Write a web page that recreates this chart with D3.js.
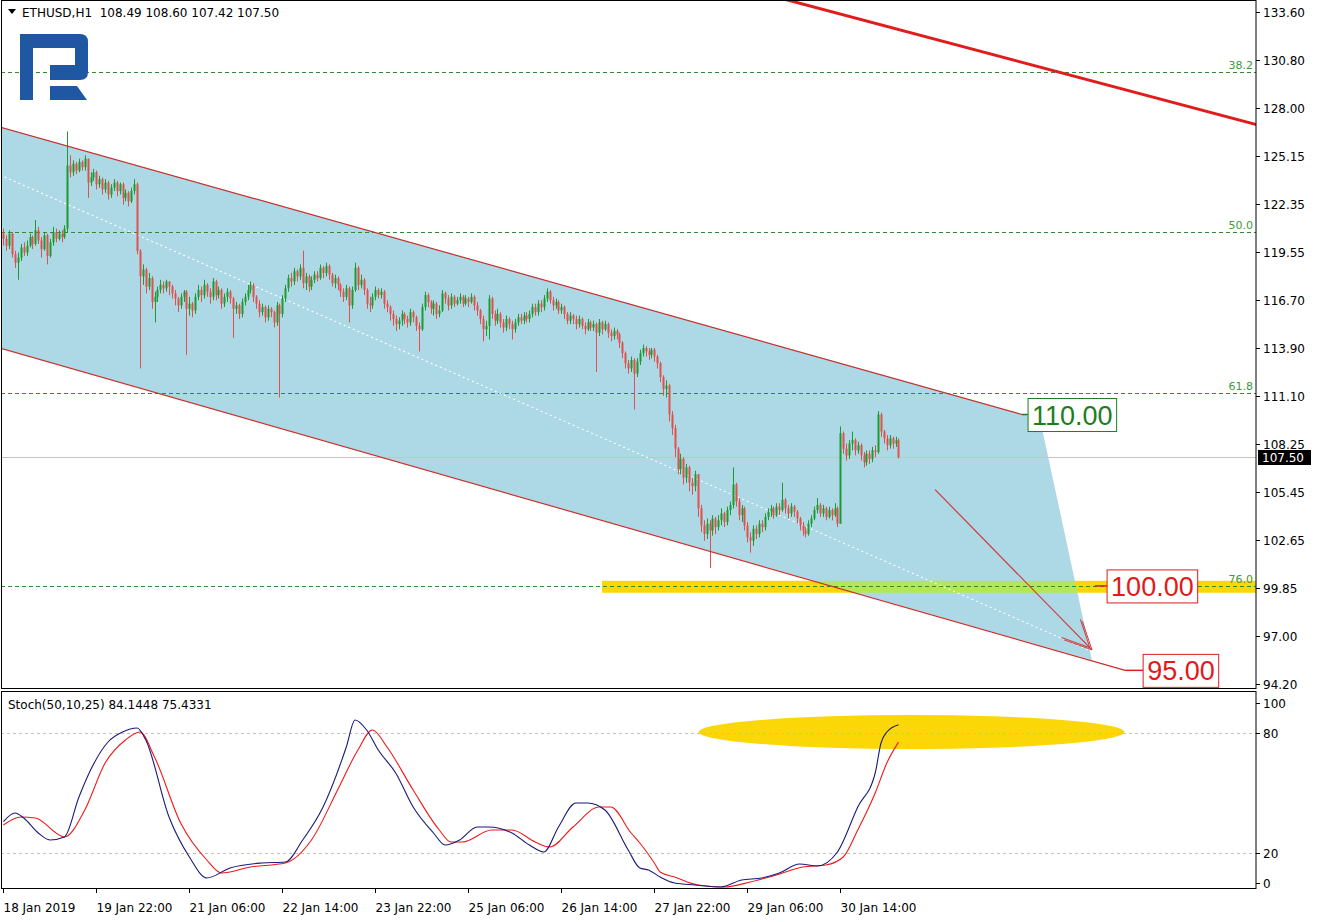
<!DOCTYPE html>
<html><head><meta charset="utf-8">
<script src="https://cdn.jsdelivr.net/npm/d3@7"></script>
<style>
body{margin:0;background:#fff}
svg{display:block}
text{font-family:"DejaVu Sans",sans-serif}
</style></head>
<body><svg id="c" width="1318" height="922"></svg>
<script>
// ---------------- DATA ----------------
const symbolTitle = "ETHUSD,H1  108.49 108.60 107.42 107.50";
const stochTitle = "Stoch(50,10,25) 84.1448 75.4331";
const firstOpen = 120.6;
const closes = [
120.3,119.9,120.6,119.4,118.9,119.2,119.8,119.5,119.9,120.4,120.0,120.8,120.2,119.7,120.5,119.3,120.1,120.7,120.3,120.6,
120.4,120.9,124.6,124.2,124.7,124.3,124.8,124.5,125.0,123.6,123.9,124.2,123.5,123.8,123.2,123.6,122.9,123.3,123.6,123.1,
123.5,122.7,123.0,122.5,123.1,123.5,119.6,118.1,118.5,117.5,118.0,116.6,116.9,117.3,117.6,117.4,117.8,117.5,117.1,116.8,
116.4,116.9,117.2,116.2,116.5,116.1,116.9,117.3,117.0,117.6,117.2,116.9,117.8,117.0,117.3,116.5,116.9,117.2,116.8,116.2,
116.4,115.9,116.6,116.9,117.3,117.6,116.9,116.5,116.0,116.3,115.7,116.2,116.0,115.4,116.4,115.9,116.8,117.4,118.0,117.8,
118.4,118.1,118.6,117.7,118.1,117.5,117.9,118.2,118.0,118.6,118.3,118.7,118.2,117.7,118.0,117.6,117.2,116.9,117.4,116.4,
117.3,118.6,117.6,117.9,117.3,116.5,116.4,116.9,117.3,117.0,117.2,116.5,116.3,115.9,115.6,115.3,115.5,115.9,115.6,115.4,
116.0,115.7,115.2,115.0,116.3,117.0,116.6,116.2,116.5,115.9,116.1,117.1,116.8,116.4,116.9,116.5,116.7,116.9,116.5,116.8,
116.6,116.9,116.4,116.1,115.6,115.0,115.2,116.8,115.9,115.5,115.9,115.4,115.1,115.6,115.3,115.0,115.4,115.7,115.5,115.8,
115.6,115.9,116.3,116.0,116.5,116.3,116.8,117.2,116.7,116.4,116.6,116.1,116.3,115.9,115.5,115.8,115.6,115.3,115.6,115.2,
115.0,115.4,115.1,115.3,114.8,115.4,115.0,115.3,114.8,114.6,114.9,114.7,114.2,113.6,113.0,112.7,113.2,112.4,113.1,113.6,
113.9,113.7,113.5,113.8,113.4,113.0,112.2,111.5,111.7,110.0,109.2,108.0,106.8,107.4,106.3,106.9,106.0,105.8,106.5,104.5,
103.5,103.0,103.6,103.2,103.9,103.4,103.8,104.2,103.7,104.4,104.7,105.9,104.9,104.1,104.5,103.5,102.8,102.6,103.3,103.0,
103.6,103.4,104.0,104.3,104.5,104.1,104.6,104.4,105.0,104.5,104.2,104.6,104.3,103.9,103.5,103.2,103.0,103.6,103.9,104.4,
104.7,104.2,104.5,104.0,104.4,104.1,104.5,103.6,108.9,108.0,107.6,108.3,108.5,107.9,108.2,107.6,107.2,107.7,107.4,107.9,
107.8,110.0,109.0,108.6,108.2,108.6,108.3,108.49,107.50];
const highs = [
120.9,120.5,120.8,120.7,119.6,119.5,120.0,120.1,120.2,120.6,120.5,121.4,121.0,120.4,120.7,120.6,120.3,121.0,120.9,120.8,
120.8,121.1,126.6,125.2,124.9,124.8,125.0,124.9,125.2,125.0,124.2,124.4,124.3,124.0,123.9,123.8,123.7,123.5,123.8,123.7,
123.6,123.6,123.2,123.1,123.3,123.8,123.6,119.7,118.8,118.6,118.3,118.1,117.2,117.5,117.9,117.8,117.9,117.7,117.6,117.3,
116.9,117.1,117.3,117.3,116.9,116.6,117.1,117.6,117.5,117.9,117.7,117.4,118.0,117.9,117.5,117.4,117.1,117.4,117.3,116.9,
116.6,116.5,116.8,117.1,117.6,117.8,117.7,117.0,116.7,116.5,116.4,116.4,116.3,116.1,116.6,116.5,117.0,117.6,118.2,118.3,
118.6,118.5,118.8,119.6,118.3,118.2,118.1,118.4,118.4,118.8,118.7,118.9,118.8,118.3,118.2,118.1,117.7,117.4,117.6,117.5,
117.5,118.9,118.7,118.2,118.0,117.4,116.9,117.1,117.5,117.4,117.4,117.3,116.7,116.4,116.1,115.8,115.7,116.1,116.0,115.8,
116.2,116.1,115.8,115.4,116.5,117.2,117.1,116.7,116.7,116.6,116.4,117.3,117.2,117.0,117.1,117.0,116.9,117.1,117.0,117.0,
116.9,117.1,117.0,116.6,116.2,115.8,115.5,117.0,116.9,116.1,116.2,116.0,115.6,115.8,115.7,115.5,115.6,115.9,115.9,116.0,
116.0,116.1,116.5,116.5,116.7,116.7,117.0,117.4,117.3,116.9,116.8,116.7,116.5,116.4,116.0,116.0,115.9,115.8,115.8,115.7,
115.4,115.6,115.5,115.5,115.4,115.6,115.5,115.5,115.4,115.0,115.1,115.0,114.8,114.3,113.7,113.2,113.4,113.3,113.3,113.8,
114.1,114.0,113.9,113.9,113.9,113.5,113.1,112.3,112.0,111.8,110.2,109.4,108.1,107.7,107.5,107.1,107.0,106.3,106.7,106.5,
104.7,103.8,103.9,103.8,104.1,104.0,104.1,104.5,104.3,104.6,104.9,106.9,106.0,105.1,104.7,104.6,103.7,103.1,103.5,103.5,
103.8,103.8,104.2,104.5,104.7,104.6,104.8,104.8,106.0,105.1,104.7,104.8,104.7,104.4,104.0,103.7,103.4,103.8,104.1,104.6,
105.1,104.8,104.7,104.6,104.6,104.5,104.8,104.6,109.3,109.0,108.3,108.5,109.0,108.6,108.4,108.3,107.8,107.9,107.9,108.1,
108.2,110.2,110.1,109.1,108.8,108.8,108.7,108.7,108.60];
const lows = [
119.9,119.6,119.7,119.2,118.6,117.9,119.0,119.3,119.3,119.8,119.7,119.9,120.0,119.2,119.6,118.8,119.2,119.9,120.1,120.2,
120.1,120.3,120.7,123.9,124.0,124.1,124.2,124.3,124.3,122.7,123.4,123.7,123.2,123.3,122.9,123.0,122.6,122.7,123.1,122.8,
122.9,122.3,122.5,122.2,122.4,122.9,119.4,112.7,117.6,117.1,117.3,116.2,115.4,116.6,117.1,117.1,117.2,117.0,116.8,116.4,
116.0,116.2,116.6,113.5,115.8,115.7,115.9,116.7,116.6,116.8,116.9,116.5,116.7,116.7,116.8,116.2,116.3,116.6,116.5,114.5,
115.9,115.6,115.7,116.4,116.7,117.1,116.6,116.2,115.7,115.8,115.4,115.5,115.7,115.1,115.2,111.0,115.7,116.6,117.2,117.5,
117.6,117.8,117.9,117.4,117.3,117.2,117.3,117.7,117.8,117.9,118.0,118.1,117.9,117.5,117.4,117.3,116.9,116.6,116.7,115.4,
116.2,117.2,117.3,117.4,117.0,116.2,116.0,116.2,116.7,116.8,116.8,116.2,116.0,115.5,115.2,114.9,115.0,115.2,115.3,115.1,
115.2,115.4,114.9,113.7,114.9,116.1,116.3,115.9,115.8,115.6,115.7,116.0,116.5,116.1,116.2,116.3,116.4,116.5,116.3,116.4,
116.3,116.5,116.1,115.8,115.3,114.3,114.6,114.4,115.6,115.2,115.3,115.1,114.8,114.9,115.0,114.4,114.8,115.2,115.3,115.3,
115.4,115.4,115.7,115.8,115.8,116.0,116.1,116.6,116.5,116.1,116.2,115.9,115.9,115.6,115.3,115.3,115.3,115.0,115.1,115.0,
114.7,114.9,114.9,114.9,112.5,114.6,114.7,114.9,114.5,114.3,114.4,114.4,113.9,113.3,112.7,112.4,112.5,110.3,112.2,112.9,
113.4,113.4,113.2,113.3,113.1,112.7,111.9,111.1,111.0,109.6,108.8,107.5,106.5,106.5,105.9,106.0,105.5,105.3,105.5,104.0,
103.1,102.6,102.7,101.0,102.9,103.0,103.2,103.5,103.4,103.5,104.1,104.5,104.6,103.8,103.7,103.2,102.5,101.9,102.3,102.7,
102.8,103.1,103.2,103.8,104.0,103.9,104.0,104.1,104.3,104.2,103.9,104.0,104.0,103.6,103.2,102.9,102.8,102.9,103.4,103.8,
104.2,104.0,104.0,103.8,103.9,103.8,104.0,103.4,103.7,107.7,107.3,107.4,107.9,107.6,107.7,107.3,106.9,107.0,107.1,107.2,
107.5,107.7,108.7,108.3,107.9,108.0,108.0,108.1,107.42];

const priceTicks = [133.60,130.80,128.00,125.15,122.35,119.55,116.70,113.90,111.10,108.25,105.45,102.65,99.85,97.00,94.20];
const timeTickIdx = [0,32,64,96,128,160,192,224,256,288];
const timeTickLabels = ["18 Jan 2019","19 Jan 22:00","21 Jan 06:00","22 Jan 14:00","23 Jan 22:00","25 Jan 06:00","26 Jan 14:00","27 Jan 22:00","29 Jan 06:00","30 Jan 14:00"];
const fibLevels = [130.10,120.69,111.28,99.97];
const fibLabels = ["38.2","50.0","61.8","76.0"];
const lastPrice = 107.50;

// trend objects (bar index, price)
const channelUpper = [[-1.2,126.86],[350.5,110.0]];
const channelLower = [[-1.2,113.90],[386.0,95.0]];
const channelFill = [[-1.2,126.86],[356.7,109.74],[374.6,95.6],[-1.2,113.90]];
const channelMid = [[-1.2,124.04],[374.6,96.1]];
const upperRed = [[250,135.2],[440,126.6]];
const arrowPts = [[320.6,105.6],[374.6,96.2]];
const yellowZone = {from:206, to:440, lo:99.55, hi:100.25};
const targetLabels = [
  {text:"110.00", idx:350.5, price:110.0, boxIdx:352.6, color:"#1d7d1d"},
  {text:"100.00", idx:375.6, price:99.95, boxIdx:379.8, color:"#e01b1b"},
  {text:"95.00",  idx:386.0, price:95.0,  boxIdx:392.2, color:"#e01b1b"}
];

// stochastic (bar index, value)
const kIdx = [0,4,7,12,16,21,26,30,36,41,46,49,57,64,70,78,89,97,103,110,118,121,125,129,135,141,148,152,157,163,167,175,181,186,191,197,201,207,215,219,222,226,231,238,247,254,261,267,274,280,287,294,300,302,304,308];
const kVal = [35.7,40,37.5,30,26.5,28,48,61.5,75.5,80.5,82.5,76.5,38,18,7.5,12.5,15,15.5,26.5,43,73,86.5,81.5,71.5,60,43,30,24,26.5,33,33,30,24,20.5,33,45,45,41.5,21.5,12.5,11.5,8,5,4,3,6.5,7.5,10,14.5,13.5,20.5,43,60,75,80.5,84.1448];
const dIdx = [0,6,11,21,28,35,42,47,52,61,70,75,85,97,106,115,122,127,132,141,150,154,158,168,175,183,188,196,205,209,216,219,224,226,231,239,248,257,266,275,283,289,294,300,304,308];
const dVal = [34,38,37.5,28,41.5,65,76.5,80.5,68,35,16.5,10,13,15,26.5,51.5,71.5,81.5,73,51.5,31.5,25.5,25.5,31.5,31.5,25.5,23,33,43,43,30,25,15,10.5,8,4,3,5.5,9,13,14,18,31.5,50,65,75.4331];
const stochLevels = [80,20];
const stochLabels = [100,80,20,0];
const stochEllipse = {cx:312.5, v:80.5, rxBars:73.3, ryVal:8.5};

// ---------------- LAYOUT ----------------
const svg = d3.select("#c");
const L = 1, R = 1256, mainTop = 1, mainBottom = 688, stTop = 691, stBottom = 888;
const x = d3.scaleLinear().domain([0,288]).range([3.4, 3.4+288*2.906]);
const y = d3.scaleLinear().domain([94.2,133.6]).range([684,12]);
const ys = d3.scaleLinear().domain([0,100]).range([893,693]);
const GREEN = "#1f9a2e", RED = "#e0504d";

const defs = svg.append("defs");
defs.append("clipPath").attr("id","mainClip").append("rect").attr("x",L).attr("y",mainTop).attr("width",R-L).attr("height",mainBottom-mainTop);
defs.append("clipPath").attr("id","stClip").append("rect").attr("x",L).attr("y",stTop).attr("width",R-L).attr("height",stBottom-stTop);
defs.append("clipPath").attr("id","chanClip").append("path")
  .attr("d", d3.line().x(d=>x(d[0])).y(d=>y(d[1]))(channelFill)+"Z");

const main = svg.append("g").attr("clip-path","url(#mainClip)");
const line = d3.line().x(d=>x(d[0])).y(d=>y(d[1]));

// yellow zone
main.append("rect").attr("x",x(yellowZone.from)).attr("width",x(yellowZone.to)-x(yellowZone.from))
  .attr("y",y(yellowZone.hi)).attr("height",y(yellowZone.lo)-y(yellowZone.hi)).attr("fill","#fcd708");
// channel fill
main.append("path").attr("d",line(channelFill)+"Z").attr("fill","#add8e6");
// overlap of zone with channel
main.append("g").attr("clip-path","url(#chanClip)").append("rect")
  .attr("x",x(yellowZone.from)).attr("width",x(yellowZone.to)-x(yellowZone.from))
  .attr("y",y(yellowZone.hi)).attr("height",y(yellowZone.lo)-y(yellowZone.hi)).attr("fill","#b4e65a");

// fib lines
fibLevels.forEach((v,i)=>{
  const yy = Math.round(y(v))+0.5;
  main.append("line").attr("x1",L).attr("x2",R).attr("y1",yy).attr("y2",yy)
    .attr("stroke","#2e8b2e").attr("stroke-dasharray","4,3");
  main.append("text").attr("x",R-3).attr("y",yy-4).attr("text-anchor","end")
    .attr("font-size",11).attr("fill","#3c9a3c").text(fibLabels[i]);
});
// current price line
main.append("line").attr("x1",L).attr("x2",R).attr("y1",Math.round(y(lastPrice))+0.5).attr("y2",Math.round(y(lastPrice))+0.5)
  .attr("stroke","#c4c4c4");

// middle dotted line
main.append("path").attr("d",line(channelMid)).attr("stroke","#ffffff").attr("stroke-width",1.2)
  .attr("stroke-dasharray","2,3").attr("fill","none");

// candles
const cg = main.append("g");
const cdata = closes.map((c,i)=>({i, o: i? closes[i-1] : firstOpen, c, h: highs[i], l: lows[i]}));
cg.selectAll("line").data(cdata).join("line")
  .attr("x1",d=>Math.round(x(d.i))+0.5).attr("x2",d=>Math.round(x(d.i))+0.5)
  .attr("y1",d=>y(Math.max(d.h,d.o,d.c))).attr("y2",d=>y(Math.min(d.l,d.o,d.c)))
  .attr("stroke",d=>d.c>=d.o?GREEN:RED);
cg.selectAll("rect").data(cdata).join("rect")
  .attr("x",d=>Math.round(x(d.i))-0.5).attr("width",2)
  .attr("y",d=>y(Math.max(d.o,d.c))).attr("height",d=>Math.max(1,Math.abs(y(d.o)-y(d.c))))
  .attr("fill",d=>d.c>=d.o?GREEN:RED);

// channel lines
[channelUpper, channelLower].forEach(p=>{
  main.append("path").attr("d",line(p)).attr("stroke","#c8302c").attr("stroke-width",1.2).attr("fill","none");
});
// thick red line
main.append("path").attr("d",line(upperRed)).attr("stroke","#e21c1c").attr("stroke-width",3).attr("fill","none");

// arrow
const a0=[x(arrowPts[0][0]),y(arrowPts[0][1])], a1=[x(arrowPts[1][0]),y(arrowPts[1][1])];
main.append("line").attr("x1",a0[0]).attr("y1",a0[1]).attr("x2",a1[0]).attr("y2",a1[1]).attr("stroke","#d23a3a").attr("stroke-width",1.2);
const ang = Math.atan2(a1[1]-a0[1],a1[0]-a0[0]);
[0.45,-0.45].forEach(da=>{
  [0,3].forEach(off=>{
    main.append("line").attr("x1",a1[0]-off*Math.cos(ang)).attr("y1",a1[1]-off*Math.sin(ang))
      .attr("x2",a1[0]-off*Math.cos(ang)-30*Math.cos(ang+da)).attr("y2",a1[1]-off*Math.sin(ang)-30*Math.sin(ang+da))
      .attr("stroke","#d23a3a").attr("stroke-width",1);
  });
});

// target labels
targetLabels.forEach(t=>{
  const yy = y(t.price), x0 = x(t.idx), bx = x(t.boxIdx);
  main.append("line").attr("x1",x0).attr("x2",bx).attr("y1",yy).attr("y2",yy).attr("stroke",t.color).attr("stroke-width",1.5);
  const tx = main.append("text").attr("x",bx+4).attr("y",yy+10).style("font-family","'Liberation Sans', Arial, sans-serif")
    .attr("font-size",27).attr("fill",t.color).text(t.text);
  const bb = tx.node().getBBox();
  main.insert("rect","text:last-child").attr("x",bx).attr("y",yy-16).attr("width",bb.width+8).attr("height",33)
    .attr("fill","#fff").attr("stroke",t.color).attr("stroke-width",1);
  tx.raise();
});

// logo
const logo = svg.append("g").attr("fill","#1f57a3");
logo.append("rect").attr("x",20).attr("y",34).attr("width",13).attr("height",66);
logo.append("path").attr("d","M33,34 H80 Q88,34 88,42 V72 Q88,80 80,80 H50 V65 H75 V48 H33 Z");
logo.append("path").attr("d","M50,86 H77 L87,100 H50 Z");

// title
svg.append("path").attr("d","M8,9 L16,9 L12,14 Z").attr("fill","#000");
svg.append("text").attr("x",22).attr("y",17).attr("font-size",12).attr("fill","#000").attr("xml:space","preserve").text(symbolTitle);

// ---------- stochastic ----------
const st = svg.append("g").attr("clip-path","url(#stClip)");
st.append("ellipse").attr("cx",x(stochEllipse.cx)).attr("cy",ys(stochEllipse.v))
  .attr("rx",x(stochEllipse.rxBars)-x(0)).attr("ry",ys(0)-ys(stochEllipse.ryVal)).attr("fill","#fcd708");
stochLevels.forEach(v=>{
  st.append("line").attr("x1",L).attr("x2",R).attr("y1",Math.round(ys(v))+0.5).attr("y2",Math.round(ys(v))+0.5)
    .attr("stroke","#c0c0c0").attr("stroke-dasharray","3,3");
});
const sl = d3.line().x(d=>x(d[0])).y(d=>ys(d[1])).curve(d3.curveMonotoneX);
st.append("path").attr("d",sl(dIdx.map((d,i)=>[d,dVal[i]]))).attr("stroke","#f01818").attr("fill","none").attr("stroke-width",1.1);
st.append("path").attr("d",sl(kIdx.map((d,i)=>[d,kVal[i]]))).attr("stroke","#1a1a7a").attr("fill","none").attr("stroke-width",1.1);
svg.append("text").attr("x",8).attr("y",709).attr("font-size",12).attr("fill","#000").text(stochTitle);

// ---------- frames & axes ----------
const frame = svg.append("g").attr("stroke","#000").attr("fill","none");
frame.append("rect").attr("x",1.5).attr("y",0.5).attr("width",R-1.5).attr("height",mainBottom);
frame.append("rect").attr("x",1.5).attr("y",stTop+0.5).attr("width",R-1.5).attr("height",stBottom-stTop);

// price axis
const pa = svg.append("g");
priceTicks.forEach(v=>{
  const yy = Math.round(y(v))+0.5;
  pa.append("line").attr("x1",R).attr("x2",R+4).attr("y1",yy).attr("y2",yy).attr("stroke","#000");
  pa.append("text").attr("x",R+7).attr("y",yy+4.5).attr("font-size",12).attr("fill","#000").text(v.toFixed(2));
});
// last price tag
const ly = Math.round(y(lastPrice));
pa.append("rect").attr("x",R+2).attr("y",ly-7).attr("width",53).attr("height",15).attr("fill","#000");
pa.append("text").attr("x",R+6).attr("y",ly+5).attr("font-size",12).attr("fill","#fff").text(lastPrice.toFixed(2));

// stoch axis
stochLabels.forEach(v=>{
  const yy = Math.round(ys(v))+0.5;
  const ty = v===100 ? yy+10 : (v===0 ? yy-10 : yy);
  pa.append("line").attr("x1",R).attr("x2",R+4).attr("y1",ty).attr("y2",ty).attr("stroke","#000");
  pa.append("text").attr("x",R+7).attr("y",ty+4.5).attr("font-size",12).attr("fill","#000").text(v);
});

// time axis
const ta = svg.append("g");
timeTickIdx.forEach((idx,i)=>{
  const xx = Math.round(x(idx))+0.5;
  ta.append("line").attr("x1",xx).attr("x2",xx).attr("y1",stBottom).attr("y2",stBottom+5).attr("stroke","#000");
  ta.append("text").attr("x",xx).attr("y",stBottom+24).attr("font-size",12).attr("fill","#000").text(timeTickLabels[i]);
});
</script></body></html>
